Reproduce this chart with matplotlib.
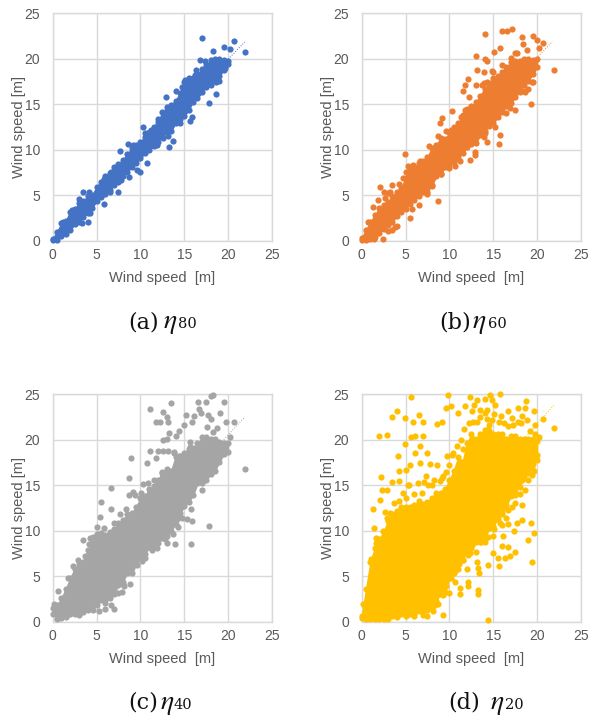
import matplotlib
matplotlib.use("Agg")
import matplotlib.pyplot as plt

# ---------------- Data ----------------
# the cores of the clouds are solid, so they are kept as the outermost dots
# along a lower/upper edge, the separate dots around them are listed one by one
env_x = [0, 0.5, 1, 1.5, 2, 2.5, 3, 3.5, 4, 4.5, 5, 5.5, 6, 6.5, 7, 7.5, 8, 8.5, 9, 9.5, 10,
         10.5, 11, 11.5, 12, 12.5, 13, 13.5, 14, 14.5, 15, 15.5, 16, 16.5, 17, 17.5, 18, 18.5, 19, 19.5, 20]

a_low = [0.05, 0.1, 0.5, 0.7, 1.2, 1.8, 2.1, 2.6, 3.1, 3.6, 4.4, 4.8, 5.1, 5.6, 6.1, 6.4, 7.1, 7.6, 8.1, 8.5, 9.1,
         9.6, 10.0, 10.4, 10.9, 11.6, 11.9, 12.1, 12.9, 13.4, 13.7, 14.4, 15.3, 15.7, 16.3, 16.9, 17.1, 17.7, 18.1, 18.8, 19.4]
a_high = [0.2, 1.0, 1.9, 2.2, 3.2, 3.5, 4.1, 4.4, 4.9, 5.0, 5.9, 6.5, 7.1, 7.4, 8.1, 8.4, 8.9, 9.5, 10.2, 10.5, 10.9,
          11.4, 11.9, 12.5, 13.1, 14.1, 14.7, 14.9, 15.4, 16.2, 17.4, 17.7, 17.9, 18.3, 18.9, 19.3, 19.9, 20.0, 20.0, 19.9, 19.8]
a_x = [17.07, 20.7, 21.9, 20.2, 19.5, 18.25, 16.8, 16.3, 18.6, 17.8, 15.7, 15.85, 12.9, 14.1, 10.3, 7.7, 8.6, 10.8,
       10.0, 13.3, 13.7, 7.5, 5.9, 4.0, 3.4, 4.1, 8.75, 9.65, 15.1, 14.7,
       1.2, 2.2, 3.0, 3.3, 4.3, 5.8, 6.6, 6.5, 7.8, 9.2, 10.5, 11.2, 12.0, 11.9, 12.6, 13.2, 14.5, 15.0, 15.5, 16.2, 17.4,
       18.6, 19.0, 19.6]
a_y = [22.3, 22.0, 20.7, 21.1, 21.3, 20.9, 19.85, 18.8, 16.1, 15.1, 13.2, 13.6, 15.75, 16.5, 12.5, 9.85, 10.6, 8.5,
       7.5, 10.3, 11.0, 5.3, 4.0, 2.05, 5.3, 5.3, 7.0, 7.8, 17.7, 16.9,
       2.1, 3.4, 4.6, 1.9, 3.0, 6.8, 7.6, 5.3, 6.7, 10.5, 11.8, 12.2, 13.4, 10.5, 11.3, 11.5, 12.9, 14.2, 17.9, 18.2, 19.8,
       17.5, 17.6, 19.0]

b_low = [0.05, 0.1, 0.2, 0.4, 0.9, 1.3, 1.7, 2.1, 2.7, 3.2, 3.5, 4.0, 4.5, 4.9, 5.4, 5.4, 6.1, 7.1, 7.3, 8.1, 8.3,
         8.7, 9.1, 9.6, 10.3, 10.6, 10.7, 11.6, 12.1, 12.6, 12.9, 13.6, 14.1, 14.8, 15.1, 15.8, 16.4, 17.1, 17.6, 18.3, 19.1]
b_high = [0.3, 1.2, 2.1, 2.8, 3.6, 3.9, 4.3, 4.9, 5.3, 5.8, 6.9, 7.9, 8.1, 8.5, 8.8, 9.2, 10.2, 10.5, 11.3, 11.2, 11.9,
          12.5, 12.9, 13.8, 14.5, 14.8, 15.2, 15.9, 16.7, 17.3, 17.9, 18.1, 18.6, 19.1, 19.6, 19.8, 19.8, 20.0, 20.0, 19.9, 20.0]
b_x = [14.07, 16.05, 16.6, 17.1, 18.25, 19.5, 20.0, 20.7, 20.2, 15.8, 15.1, 18.4, 18.8, 17.5, 13.0, 14.07, 14.25, 21.9,
       13.2, 13.9, 14.8, 12.1, 11.8, 13.0, 13.7, 14.25, 11.6, 12.2, 10.35, 9.1, 8.9, 4.95, 19.3, 19.5, 19.0, 18.6, 17.5,
       16.9, 15.8, 15.7, 14.25, 13.9, 12.9, 12.36, 10.65, 8.75, 5.5, 2.1, 2.5, 3.2, 3.4, 4.2, 1.3, 0.7, 3.8, 3.4, 2.4, 1.45,
       1.9, 2.7, 3.0, 4.7, 5.0, 5.3, 5.8, 6.6, 7.7, 8.7, 9.6, 10.2, 11.3, 11.8, 13.9, 15.0, 16.0, 17.0, 17.7,
       3.0, 4.0, 5.7, 6.5, 7.5, 8.0, 9.0, 10.0, 11.2, 12.9, 14.0, 15.2, 16.5, 18.5, 19.4]
b_y = [22.7, 23.0, 23.1, 23.3, 22.4, 22.5, 22.05, 21.7, 21.2, 21.2, 20.8, 21.6, 21.0, 20.6, 20.3, 20.0, 19.8, 18.75,
       18.75, 18.6, 18.65, 17.75, 17.1, 17.1, 17.1, 17.5, 16.5, 15.75, 14.25, 13.45, 12.9, 9.5, 15.0, 17.5, 16.7, 16.4, 14.35,
       14.55, 11.6, 10.6, 10.9, 11.4, 9.4, 8.85, 8.2, 4.4, 2.45, 5.9, 5.4, 5.4, 6.1, 6.2, 3.65, 2.1, 1.5, 1.2, 0.2, 0.15,
       4.5, 4.7, 5.2, 6.9, 7.6, 8.2, 8.3, 8.8, 10.4, 11.5, 12.1, 12.2, 13.6, 14.4, 17.3, 18.6, 19.3, 20.1, 20.6,
       1.1, 1.6, 3.5, 3.9, 5.1, 6.0, 7.3, 8.0, 8.8, 9.8, 11.8, 12.5, 14.0, 16.5, 17.5]

c_low = [0.9, 0.3, 0.4, 0.6, 0.8, 0.9, 0.9, 1.1, 1.3, 1.7, 1.8, 2.4, 2.1, 2.6, 3.1, 4.0, 4.4, 5.4, 5.9, 6.4, 7.0,
         7.4, 8.2, 8.4, 8.7, 9.2, 9.4, 10.0, 10.7, 11.9, 12.7, 13.2, 13.9, 15.2, 15.2, 15.6, 16.2, 16.6, 17.6, 18.4, 18.7]
c_high = [1.5, 1.8, 2.6, 3.6, 4.8, 5.8, 6.3, 6.6, 7.9, 8.6, 9.6, 9.7, 9.5, 9.9, 10.2, 10.8, 11.2, 11.8, 11.9, 12.6, 13.6,
          13.8, 14.6, 14.9, 15.6, 16.4, 16.8, 16.6, 18.1, 18.2, 18.6, 19.0, 19.1, 19.6, 19.8, 20.3, 20.1, 20.1, 19.8, 19.7, 19.6]
c_x = [18.3, 18.0, 16.6, 17.45, 19.5, 13.5, 11.1, 12.6, 16.7, 16.9, 15.2, 16.1, 17.75, 19.1, 18.0, 11.75, 12.2, 13.0,
       13.2, 15.85, 20.7, 19.7, 15.0, 14.4, 13.3, 17.6, 18.7, 20.2, 12.55, 13.0, 14.0, 15.7, 11.1, 12.05, 12.6, 13.1, 13.8,
       8.9, 10.8, 11.75, 8.75, 6.6, 5.5, 6.6, 5.4, 9.1, 8.75, 10.35, 21.9, 17.8, 15.75, 13.9, 14.3, 13.7, 15.85, 15.3,
       14.7, 12.8, 11.9, 11.3, 10.2, 8.8, 8.05, 7.9, 0.65, 0.1, 3.5, 4.2,
       1.7, 2.3, 2.9, 3.7, 4.1, 4.6, 5.1, 5.8, 7.0, 7.7, 8.4, 9.4, 10.1, 10.9, 11.5, 12.5, 13.8, 14.4, 15.7, 17.0, 18.3,
       1.5, 3.0, 4.6, 5.3, 6.0, 6.6, 7.0, 7.4, 8.1, 9.0, 9.6, 10.5, 11.6, 13.0, 14.2, 15.8, 17.0]
c_y = [24.9, 24.8, 24.2, 24.1, 24.1, 24.0, 23.4, 23.1, 23.4, 22.9, 22.75, 22.6, 22.75, 22.9, 22.3, 22.0, 22.0, 22.5,
       21.9, 22.0, 22.0, 21.9, 21.6, 21.0, 20.8, 21.45, 21.3, 20.3, 20.0, 20.1, 20.4, 19.8, 18.8, 18.8, 18.8, 18.8, 18.7,
       18.0, 17.5, 18.0, 15.8, 14.7, 13.15, 12.4, 11.5, 14.25, 13.9, 15.1, 16.75, 10.5, 8.55, 8.55, 10.4, 9.6, 11.1, 11.3,
       11.45, 9.1, 8.1, 7.9, 6.7, 4.15, 4.15, 3.3, 3.4, 1.9, 9.0, 9.2,
       4.8, 6.1, 6.8, 7.2, 8.5, 9.3, 10.4, 10.3, 10.9, 11.8, 12.4, 13.9, 14.1, 15.3, 15.6, 16.5, 18.6, 18.2, 19.2, 20.3, 20.9,
       0.5, 0.7, 1.3, 1.2, 1.4, 1.8, 1.4, 3.2, 3.9, 5.3, 6.2, 7.0, 8.2, 8.7, 11.3, 12.4, 14.5]

d_low = [0.4, 0.3, 0.3, 0.3, 0.3, 0.3, 0.3, 0.6, 0.7, 0.8, 0.8, 0.9, 0.9, 1.2, 1.2, 1.3, 1.5, 2.3, 3.1, 3.3, 4.8,
         5.3, 5.8, 6.8, 7.8, 8.1, 8.8, 8.8, 9.1, 10.3, 10.5, 11.3, 11.8, 12.8, 13.8, 14.3, 14.8, 15.8, 16.3, 17.3, 18.3]
d_high = [0.6, 3.6, 6.6, 8.1, 9.1, 9.9, 11.1, 11.8, 12.2, 12.6, 12.6, 12.6, 12.8, 13.3, 12.9, 13.2, 13.6, 14.1, 14.1, 14.6, 15.6,
          16.6, 18.1, 17.6, 19.6, 20.6, 20.1, 20.6, 21.1, 21.6, 20.6, 20.6, 20.6, 20.1, 20.4, 20.4, 20.1, 20.1, 20.1, 20.1, 19.9]
d_x = [9.85, 15.75, 14.6, 12.3, 5.6, 14.1, 13.2, 14.8, 18.7, 16.7, 4.05, 3.4, 4.95, 6.55, 5.9, 7.0, 8.55, 9.1, 9.6, 10.15,
       11.0, 11.8, 12.55, 12.8, 13.5, 14.25, 15.2, 15.9, 17.1, 17.8, 18.6, 19.6, 20.7, 19.8, 21.9, 18.25, 2.0, 2.85, 5.6, 6.1,
       7.0, 4.9, 6.65, 4.1, 6.1, 7.4, 5.5, 6.65, 7.8, 8.55, 9.7, 10.25, 9.6, 11.15, 4.2, 5.0, 2.2, 3.4, 4.25, 5.25,
       2.85, 2.3, 2.1, 1.25, 2.65, 1.4, 1.65, 7.15, 8.2, 9.1, 19.45, 19.0, 19.6, 19.3, 18.25, 17.7, 17.4, 16.7, 16.0, 16.15,
       15.0, 15.0, 15.5, 15.7, 16.35, 16.9, 17.5, 16.0, 16.7, 14.45, 13.3, 13.4, 13.2, 12.05, 12.15, 12.15, 13.25, 13.3, 11.2, 11.2,
       14.4, 9.3, 8.35, 0.2, 8.55, 9.9, 10.65, 12.15, 12.55, 14.1, 17.5, 18.25, 17.5, 18.6, 18.25, 19.4, 19.45, 19.45, 20.0, 16.7,
       16.0, 15.2, 16.05, 14.1,
       1.1, 1.6, 2.4, 2.9, 3.2, 3.7, 4.3, 4.7, 5.1, 5.4, 6.0, 6.4, 6.9, 7.3, 7.6, 8.0, 8.9, 9.3, 9.9, 10.4, 10.9, 11.3, 11.6,
       11.7, 12.2, 12.7, 13.1, 13.5, 14.0, 14.3, 14.8, 15.1, 15.6, 16.2, 16.7, 17.3, 17.8, 18.2, 18.8, 19.2, 19.8, 20.2,
       4.0, 5.0, 6.0, 7.0, 7.5, 8.1, 8.7, 9.3, 9.6, 10.2, 10.6, 11.1, 11.5, 12.3, 13.0, 13.6, 14.4, 15.1, 15.8, 16.4, 17.1,
       18.0, 19.0, 19.6]
d_y = [24.9, 25.0, 24.9, 24.7, 24.65, 24.5, 24.4, 24.4, 24.3, 23.2, 23.2, 22.5, 22.4, 22.7, 21.9, 22.0, 21.7, 21.9, 23.5, 23.7,
       22.9, 23.7, 23.2, 23.85, 23.3, 23.3, 23.8, 22.6, 22.4, 23.5, 23.5, 23.2, 22.3, 21.65, 21.3, 22.6, 20.45, 20.5, 20.3, 20.4,
       20.45, 19.5, 19.3, 18.25, 18.6, 18.5, 17.25, 17.4, 17.3, 17.25, 18.2, 18.35, 16.45, 17.55, 16.6, 16.7, 15.9, 15.4, 15.5, 15.05,
       14.5, 14.5, 13.4, 12.4, 12.05, 10.3, 9.25, 15.4, 15.6, 15.8, 6.55, 9.0, 9.75, 10.85, 11.2, 10.85, 10.0, 10.7, 10.65, 9.4,
       9.4, 7.5, 7.05, 6.15, 7.05, 7.2, 7.65, 8.3, 8.2, 6.25, 5.9, 5.35, 6.6, 5.8, 4.35, 3.9, 3.5, 3.1, 3.7, 3.1,
       0.15, 0.75, 1.85, 2.0, 3.0, 3.15, 4.35, 7.35, 8.45, 8.8, 13.0, 12.85, 13.95, 14.5, 15.6, 16.15, 16.9, 17.55, 17.8, 12.3,
       13.6, 11.4, 12.15, 9.9,
       6.9, 8.6, 10.0, 11.4, 12.0, 13.0, 13.3, 14.2, 13.6, 15.0, 14.0, 15.2, 14.2, 16.0, 15.0, 15.0, 15.5, 16.0, 17.2, 18.6, 19.3, 20.0, 19.0,
       21.2, 21.8, 22.0, 22.0, 22.5, 22.9, 22.3, 22.2, 22.8, 22.0, 21.8, 21.5, 21.6, 22.0, 21.8, 22.2, 21.0, 20.6, 20.3,
       0.5, 0.6, 0.6, 0.7, 0.6, 1.2, 1.9, 2.9, 3.9, 4.8, 5.6, 6.3, 6.8, 7.5, 7.7, 8.8, 9.3, 10.2, 10.9, 11.4, 12.6,
       14.0, 15.6, 16.6]

# end of the thin dotted trend line in each panel
trend_end_x = [21.9, 21.75, 21.9, 21.9]
trend_end_y = [21.85, 21.9, 22.5, 23.8]

ticks = [0, 5, 10, 15, 20, 25]
letters = ["(a)", "(b)", "(c)", "(d)"]
etas = ["80", "60", "40", "20"]

# ---------------- Layout / style ----------------
W, H = 590, 719
colors = ["#4472C4", "#ED7D31", "#A5A5A5", "#FFC000"]
left_px = [52.7, 361.7, 52.7, 361.7]
top_px = [13.3, 13.3, 394.3, 394.3]
cap_y_px = [322, 322, 703, 703]
cap_x_px = [128, 439, 128, 448]  # left edge of "(a)"
eta_x_px = [163, 472, 160, 490]
num_x_px = [178, 488, 174, 505]
ax_w, ax_h = 219.3, 227.4
grey = "#595959"
grid_c = "#D9D9D9"
dot = 20

plt.rcParams["font.family"] = ["Liberation Sans", "DejaVu Sans"]
plt.rcParams["mathtext.fontset"] = "stix"

fig = plt.figure(figsize=(W / 100, H / 100), dpi=100)

panels = [(a_low, a_high, a_x, a_y), (b_low, b_high, b_x, b_y),
          (c_low, c_high, c_x, c_y), (d_low, d_high, d_x, d_y)]

for i, (low, high, xs, ys) in enumerate(panels):
    ax = fig.add_axes([left_px[i] / W, 1 - (top_px[i] + ax_h) / H, ax_w / W, ax_h / H])
    ax.set_xlim(0, 25)
    ax.set_ylim(0, 25)
    ax.set_xticks(ticks)
    ax.set_yticks(ticks)
    ax.grid(True, color=grid_c, lw=1.0)
    ax.set_axisbelow(True)
    for s in ax.spines.values():
        s.set_color(grid_c)
        s.set_linewidth(1.0)
    ax.tick_params(axis="x", length=0, labelsize=10, labelcolor=grey, pad=5)
    ax.tick_params(axis="y", length=0, labelsize=10, labelcolor=grey, pad=9)
    ax.fill_between(env_x, low, high, facecolor=colors[i], edgecolor=colors[i], lw=1.0, clip_on=False, zorder=3)
    ax.scatter(env_x, low, s=dot, color=colors[i], lw=0, clip_on=False, zorder=3)
    ax.scatter(env_x, high, s=dot, color=colors[i], lw=0, clip_on=False, zorder=3)
    ax.scatter(xs, ys, s=dot, color=colors[i], lw=0, clip_on=False, zorder=3)
    ax.plot([0, trend_end_x[i]], [0, trend_end_y[i]], color=colors[i], lw=0.7, ls=":", zorder=2)
    ax.set_xlabel("Wind speed  [m]", fontsize=10.5, color=grey, labelpad=7)
    ax.set_ylabel("Wind speed [m]", fontsize=10.5, color=grey, labelpad=-1)

    # caption under the panel
    fig.text(cap_x_px[i] / W, 1 - cap_y_px[i] / H, letters[i], family="DejaVu Serif",
             fontsize=16, color="#111111", va="center")
    fig.text(eta_x_px[i] / W, 1 - (cap_y_px[i] + 1) / H, r"$\eta$", fontsize=20, color="#111111", va="center")
    fig.text(num_x_px[i] / W, 1 - (cap_y_px[i] + 2) / H, etas[i], family="DejaVu Serif",
             fontsize=10.5, color="#111111", va="center")

fig.savefig("out.png", dpi=100)
